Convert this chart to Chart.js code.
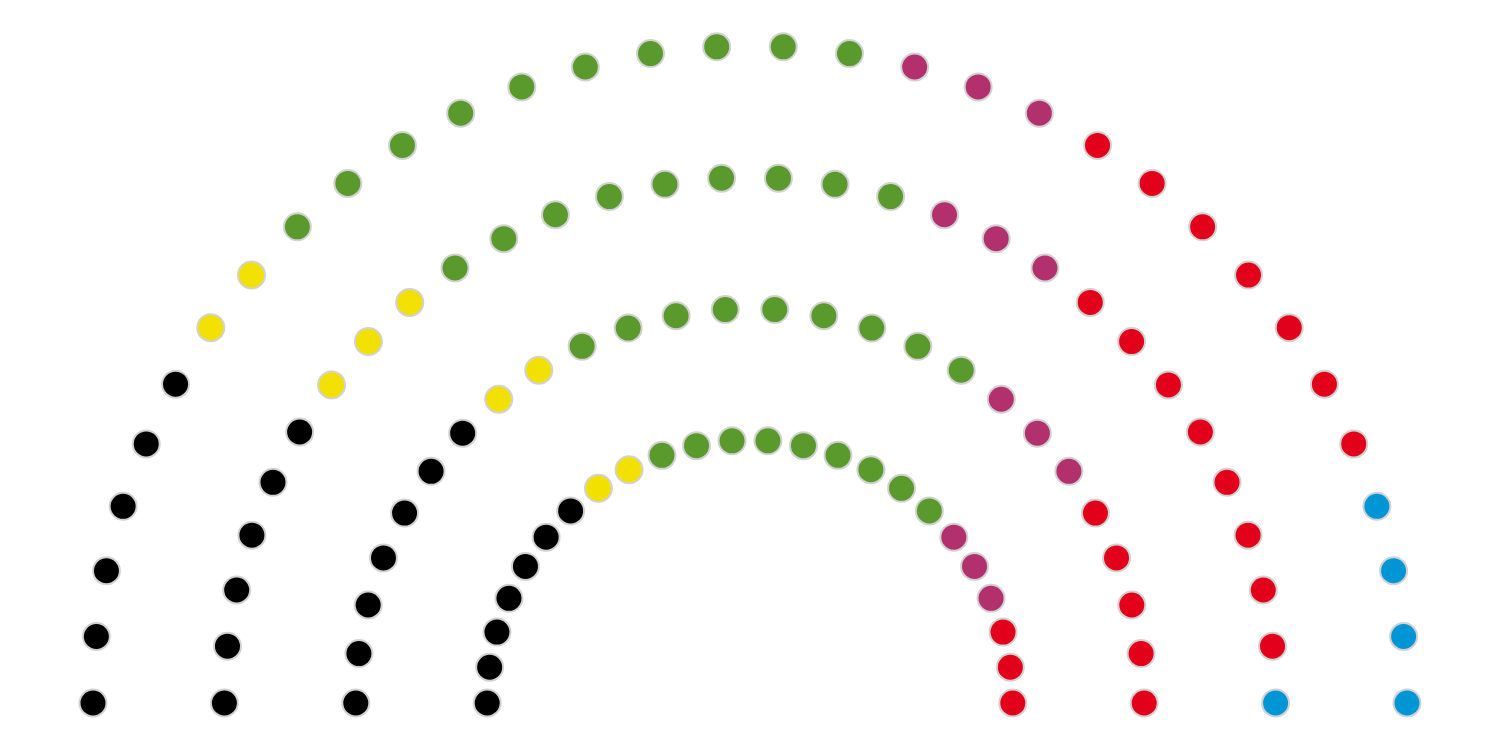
<!DOCTYPE html>
<html>
<head>
<meta charset="utf-8">
<script src="https://cdn.jsdelivr.net/npm/chart.js@4"></script>
<style>
  html, body { margin: 0; padding: 0; background: #ffffff; }
  #wrap { width: 1500px; height: 750px; }
</style>
</head>
<body>
<div id="wrap"><canvas id="parliamentChart"></canvas></div>
<script>
// seats per party, in drawing order (left to right)
const parties = ["Schwarz", "Gelb", "Grün", "Violett", "Rot", "Blau"];
const seats = [26, 9, 37, 12, 23, 5];
const colors = ["#000000", "#f2e100", "#5a9a2c", "#b3306e", "#e2001a", "#0096d6"];

// seats available in each row, inner row first
const rowSeats = [24, 26, 30, 32];
const innerSize = 0.4;

// build the slots: one per seat, ordered column by column, inner row first
const slots = [];
rowSeats.forEach((n, row) => {
  const r = innerSize + (1 - innerSize) * row / (rowSeats.length - 1);
  for (let col = 0; col < n; col++) {
    const a = Math.PI - col * Math.PI / (n - 1);
    slots.push({ col, row, x: Math.cos(a) * r, y: Math.sin(a) * r });
  }
});
slots.sort((a, b) => a.col - b.col || a.row - b.row);

let next = 0;
const datasets = parties.map((name, i) => {
  const pts = slots.slice(next, next + seats[i]).map(s => ({ x: s.x, y: s.y }));
  next += seats[i];
  return {
    label: name,
    data: pts,
    backgroundColor: colors[i],
    borderColor: "#d2d2d2",
    borderWidth: 2,
    pointRadius: 13.5,
    pointHoverRadius: 13.5
  };
});

// scale so 1 unit = 657px, centre at (750, 703)
const unit = 657;
const ctx = document.getElementById("parliamentChart");

new Chart(ctx, {
  type: "scatter",
  data: { datasets: datasets },
  options: {
    responsive: true,
    maintainAspectRatio: false,
    animation: false,
    layout: { padding: 0, autoPadding: false },
    scales: {
      x: { display: false, min: -750 / unit, max: 750 / unit },
      y: { display: false, min: -47 / unit, max: 703 / unit }
    },
    plugins: {
      legend: { display: false },
      tooltip: { enabled: true }
    }
  }
});
</script>
</body>
</html>
